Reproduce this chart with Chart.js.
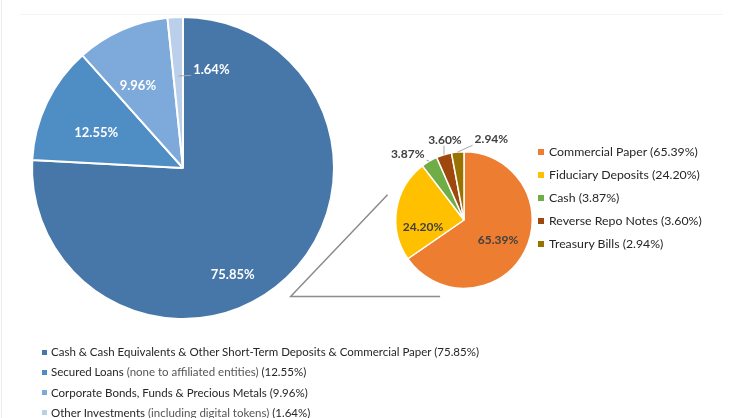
<!DOCTYPE html>
<html>
<head>
<meta charset="utf-8">
<script src="https://cdn.jsdelivr.net/npm/chart.js@4.4.1/dist/chart.umd.min.js"></script>
<style>
  body { margin: 0; background: #fff; }
  #wrap { position: relative; width: 743px; height: 418px; overflow: hidden; font-family: Lato, "Open Sans", sans-serif; color: #262626; }
  #wrap canvas { position: absolute; left: 0; top: 0; }
  .frame-left { position: absolute; left: 1px; top: 0; width: 1px; height: 418px; background: #ececec; }
  .frame-top { position: absolute; left: 20px; top: 14px; width: 703px; height: 1px; background: #f4f4f4; }
  .legend { position: absolute; white-space: nowrap; }
  .legend i { display: inline-block; vertical-align: middle; position: relative; top: -1px; }
  .legend .note { color: #555; }
  #mainLegend { left: 42px; top: 342px; font-size: 11.5px; line-height: 20.3px; }
  #mainLegend i { width: 5px; height: 5px; margin-right: 4px; }
  #cashLegend { left: 538px; top: 140px; font-size: 12.3px; line-height: 23px; }
  #cashLegend i { width: 6px; height: 6px; margin-right: 5px; }
</style>
</head>
<body>
<div id="wrap">
  <div class="frame-left"></div>
  <div class="frame-top"></div>
  <canvas id="mainPie" width="743" height="418"></canvas>
  <canvas id="cashPie" width="743" height="418"></canvas>
  <div class="legend" id="mainLegend"></div>
  <div class="legend" id="cashLegend"></div>
</div>
<script>
// overall reserve breakdown (big pie)
const mainLabels = [
  'Cash & Cash Equivalents & Other Short-Term Deposits & Commercial Paper',
  'Secured Loans',
  'Corporate Bonds, Funds & Precious Metals',
  'Other Investments'
]
const mainNotes = ['', '(none to affiliated entities)', '', '(including digital tokens)']
const mainValues = [75.85, 12.55, 9.96, 1.64]
const mainColors = ['#4677a8', '#4f8dc5', '#7eaadb', '#b9cfea']

// split of the cash slice (small pie)
const cashLabels = ['Commercial Paper', 'Fiduciary Deposits', 'Cash', 'Reverse Repo Notes', 'Treasury Bills']
const cashValues = [65.39, 24.20, 3.87, 3.60, 2.94]
const cashColors = ['#ed7d31', '#ffc000', '#70ad47', '#9e480e', '#997300']

const pct = v => v.toFixed(2) + '%'

// draws the percent labels, with small leader lines for the outside ones
const sliceLabels = {
  id: 'sliceLabels',
  afterDatasetsDraw(chart, args, opts) {
    const ctx = chart.ctx
    const values = chart.data.datasets[0].data
    ctx.save()
    ctx.font = opts.font
    ctx.textAlign = 'center'
    ctx.textBaseline = 'middle'
    chart.getDatasetMeta(0).data.forEach((arc, i) => {
      const p = arc.getProps(['x', 'y', 'startAngle', 'endAngle', 'outerRadius'], true)
      const mid = (p.startAngle + p.endAngle) / 2
      const a = mid + opts.shift[i] * Math.PI / 180
      const lx = p.x + Math.cos(a) * p.outerRadius * opts.dist[i]
      const ly = p.y + Math.sin(a) * p.outerRadius * opts.dist[i]
      const text = pct(values[i])
      if (opts.leader[i]) {
        const w = ctx.measureText(text).width / 2 + 2
        const sx = p.x + Math.cos(mid) * p.outerRadius * opts.leaderFrom
        const sy = p.y + Math.sin(mid) * p.outerRadius * opts.leaderFrom
        const ex = Math.min(Math.max(sx, lx - w), lx + w)
        const ey = Math.min(Math.max(sy, ly - 6), ly + 6)
        ctx.strokeStyle = '#a6a6a6'
        ctx.lineWidth = 1
        ctx.beginPath()
        ctx.moveTo(sx, sy)
        ctx.lineTo(ex, ey)
        ctx.stroke()
      }
      ctx.fillStyle = opts.color
      ctx.fillText(text, lx, ly)
    })
    ctx.restore()
  }
}

// the two lines joining the big pie to the small one
const connector = {
  id: 'connector',
  beforeDatasetsDraw(chart) {
    const arc = chart.getDatasetMeta(0).data[0]
    const {x, y, outerRadius: r} = arc.getProps(['x', 'y', 'outerRadius'], true)
    const ctx = chart.ctx
    ctx.save()
    ctx.strokeStyle = '#8c8c8c'
    ctx.lineWidth = 1.5
    ctx.beginPath()
    ctx.moveTo(x - 1.12 * r, y - 0.37 * r)
    ctx.lineTo(x - 2.54 * r, y + 1.12 * r)
    ctx.lineTo(x - 0.35 * r, y + 1.12 * r)
    ctx.stroke()
    ctx.restore()
  }
}

const baseOptions = {
  responsive: false,
  animation: false,
  plugins: { legend: { display: false }, tooltip: { enabled: false } }
}

new Chart(document.getElementById('mainPie'), {
  type: 'pie',
  data: {
    labels: mainLabels,
    datasets: [{ data: mainValues, backgroundColor: mainColors, borderColor: '#fff', borderWidth: 2 }]
  },
  options: {
    ...baseOptions,
    layout: { padding: { left: 31, top: 16, right: 408, bottom: 98 } },
    plugins: {
      ...baseOptions.plugins,
      sliceLabels: {
        font: 'bold 13px Lato, sans-serif',
        color: '#ffffff',
        shift: [18.5, -3.6, -5, 19],
        dist: [0.78, 0.62, 0.62, 0.68],
        leader: [false, false, false, true],
        leaderFrom: 0.61
      }
    }
  },
  plugins: [sliceLabels]
})

new Chart(document.getElementById('cashPie'), {
  type: 'pie',
  data: {
    labels: cashLabels,
    datasets: [{ data: cashValues, backgroundColor: cashColors, borderColor: '#fff', borderWidth: 1.5 }]
  },
  options: {
    ...baseOptions,
    layout: { padding: { left: 395, top: 151, right: 210, bottom: 129 } },
    plugins: {
      ...baseOptions.plugins,
      sliceLabels: {
        font: 'bold 12px Lato, sans-serif',
        color: '#404040',
        shift: [3, -19, -10, 3.7, 24],
        dist: [0.58, 0.61, 1.27, 1.21, 1.25],
        leader: [false, false, true, true, true],
        leaderFrom: 1.0
      }
    }
  },
  plugins: [connector, sliceLabels]
})

// html legends built from the same arrays
function buildLegend(el, labels, values, colors, notes) {
  el.innerHTML = labels.map((l, i) => {
    const note = notes && notes[i] ? ' <span class="note">' + notes[i] + '</span>' : ''
    return '<div><i style="background:' + colors[i] + '"></i>' + l.replace(/&/g, '&amp;') + note + ' (' + pct(values[i]) + ')</div>'
  }).join('')
}
buildLegend(document.getElementById('mainLegend'), mainLabels, mainValues, mainColors, mainNotes)
buildLegend(document.getElementById('cashLegend'), cashLabels, cashValues, cashColors)
</script>
</body>
</html>
